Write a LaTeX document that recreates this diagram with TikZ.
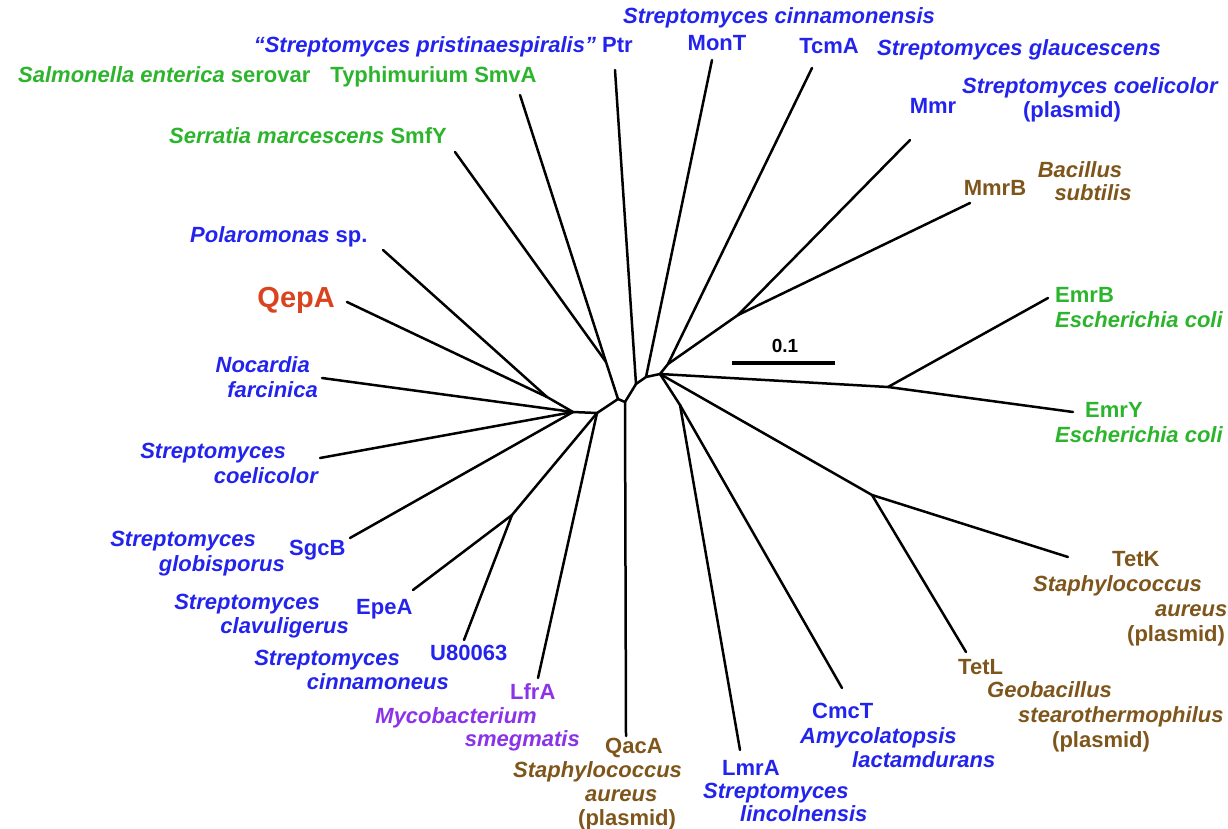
\documentclass[tikz,border=0pt]{standalone}
\usepackage{fontspec}
\setmainfont{Liberation Sans}
\usepackage{tikz}
\usetikzlibrary{positioning}
\definecolor{seqblue}{HTML}{2323EE}
\definecolor{seqgreen}{HTML}{2CB52C}
\definecolor{seqbrown}{HTML}{7E561C}
\definecolor{seqpurple}{HTML}{8A33E8}
\definecolor{seqred}{HTML}{D9441E}

\begin{document}
\begin{tikzpicture}[x=1pt,y=-1pt,
  br/.style={line width=2.5pt,line cap=round,line join=round},
  gene/.style={font=\bfseries\fontsize{22}{25}\selectfont,inner sep=0pt,text height=16pt,text depth=5pt},
  org/.style={gene,font=\bfseries\itshape\fontsize{22}{25}\selectfont},
  bl/.style={text=seqblue},gr/.style={text=seqgreen},bn/.style={text=seqbrown},pu/.style={text=seqpurple}
]
  \useasboundingbox (0,0) rectangle (1228,829);

  % junctions
  \coordinate (c1) at (618,399); \coordinate (c2) at (625,402); \coordinate (c3) at (636,384);
  \coordinate (c4) at (646,377); \coordinate (c5) at (660,374);
  \coordinate (jsm) at (606,362); \coordinate (jtm) at (668,364); \coordinate (jmm) at (738,315);
  \coordinate (jem) at (888,387); \coordinate (jtet) at (872,495); \coordinate (jlc) at (680,405);
  \coordinate (l1) at (597,413); \coordinate (jeu) at (512,515); \coordinate (hub) at (573,412);
  \coordinate (jpq) at (547,397);

  % tips
  \coordinate (tSmvA) at (520,95); \coordinate (tSmfY) at (455,152); \coordinate (tPtr) at (615,70);
  \coordinate (tMonT) at (712,60); \coordinate (tTcmA) at (812,68); \coordinate (tMmr) at (910,140);
  \coordinate (tMmrB) at (970,203); \coordinate (tEmrB) at (1048,298); \coordinate (tEmrY) at (1073,412);
  \coordinate (tTetK) at (1068,557); \coordinate (tTetL) at (966,652); \coordinate (tCmcT) at (842,688);
  \coordinate (tLmrA) at (740,750); \coordinate (tQacA) at (626,736); \coordinate (tLfrA) at (538,678);
  \coordinate (tU80) at (464,640); \coordinate (tEpeA) at (413,590); \coordinate (tSgcB) at (350,538);
  \coordinate (tScoel) at (320,458); \coordinate (tNoc) at (322,378); \coordinate (tQepA) at (347,302);
  \coordinate (tPol) at (383,250);

  \draw[br] (tSmvA) -- (jsm) -- (c1); \draw[br] (tSmfY) -- (jsm);
  \draw[br] (c1) -- (c2) -- (c3) -- (c4) -- (c5);
  \draw[br] (tPtr) -- (c3); \draw[br] (tMonT) -- (c4);
  \draw[br] (tTcmA) -- (jtm) -- (c5); \draw[br] (tMmr) -- (jmm) -- (jtm); \draw[br] (tMmrB) -- (jmm);
  \draw[br] (c5) -- (jem) -- (tEmrB); \draw[br] (jem) -- (tEmrY);
  \draw[br] (c5) -- (jtet) -- (tTetK); \draw[br] (jtet) -- (tTetL);
  \draw[br] (c5) -- (jlc) -- (tCmcT); \draw[br] (jlc) -- (tLmrA);
  \draw[br] (c2) -- (tQacA);
  \draw[br] (c1) -- (l1) -- (hub);
  \draw[br] (l1) -- (jeu) -- (tEpeA); \draw[br] (jeu) -- (tU80); \draw[br] (l1) -- (tLfrA);
  \draw[br] (hub) -- (jpq) -- (tQepA); \draw[br] (jpq) -- (tPol);
  \draw[br] (hub) -- (tNoc); \draw[br] (hub) -- (tScoel); \draw[br] (hub) -- (tSgcB);

  % scale bar
  \coordinate (sb1) at (732,363); \coordinate (sb2) at (835,363);
  \draw[line width=4.5pt] (sb1) -- (sb2);
  \node[gene,font=\bfseries\fontsize{19}{22}\selectfont] (sblabel) at (785,347) {0.1};

  % top
  \node[org,bl] (cinnam) at (779,18) {Streptomyces cinnamonensis};
  \node[gene,bl] (monT) at (717,45) {MonT};
  \node[gene,bl,anchor=east] (ptr) at (633,47) {\textit{“Streptomyces pristinaespiralis”} Ptr};
  \node[gene,gr,anchor=west] (smvA) at (18,77) {\textit{Salmonella enterica} serovar\hspace{20pt}Typhimurium SmvA};
  \node[gene,gr,anchor=east] (smfY) at (447,138) {\textit{Serratia marcescens} SmfY};
  \node[gene,bl] (tcmA) at (829,48) {TcmA};
  \node[org,bl,anchor=west] (glauc) at (877,50) {Streptomyces glaucescens};
  \node[gene,bl] (mmr) at (933,108) {Mmr};
  \node[org,bl,anchor=west] (scoelP1) at (962,88) {Streptomyces coelicolor};
  \node[gene,bl] (scoelP2) at (1072,112) {(plasmid)};
  \node[gene,bn] (mmrB) at (995,190) {MmrB};
  \node[org,bn] (bsub1) at (1080,172) {Bacillus};
  \node[org,bn] (bsub2) at (1093,195) {subtilis};

  % right
  \node[gene,gr,anchor=west] (emrB) at (1055,297) {EmrB};
  \node[org,gr,anchor=west] (ecoliB) at (1055,322) {Escherichia coli};
  \node[gene,gr,anchor=west] (emrY) at (1085,412) {EmrY};
  \node[org,gr,anchor=west] (ecoliY) at (1055,437) {Escherichia coli};
  \node[gene,bn,anchor=west] (tetK) at (1112,561) {TetK};
  \node[org,bn,anchor=west] (saurK1) at (1033,586) {Staphylococcus};
  \node[org,bn,anchor=west] (saurK2) at (1155,611) {aureus};
  \node[gene,bn,anchor=west] (saurK3) at (1127,636) {(plasmid)};
  \node[gene,bn,anchor=west] (tetL) at (958,669) {TetL};
  \node[org,bn,anchor=west] (geob1) at (987,692) {Geobacillus};
  \node[org,bn,anchor=west] (geob2) at (1018,717) {stearothermophilus};
  \node[gene,bn,anchor=west] (geob3) at (1052,742) {(plasmid)};

  % bottom
  \node[gene,bl,anchor=west] (cmcT) at (812,713) {CmcT};
  \node[org,bl,anchor=west] (amyc1) at (800,738) {Amycolatopsis};
  \node[org,bl,anchor=west] (amyc2) at (852,762) {lactamdurans};
  \node[gene,bl,anchor=west] (lmrA) at (722,770) {LmrA};
  \node[org,bl,anchor=west] (slin1) at (703,793) {Streptomyces};
  \node[org,bl,anchor=west] (slin2) at (740,816) {lincolnensis};
  \node[gene,bn,anchor=west] (qacA) at (605,748) {QacA};
  \node[org,bn,anchor=west] (saurQ1) at (513,772) {Staphylococcus};
  \node[org,bn,anchor=west] (saurQ2) at (585,796) {aureus};
  \node[gene,bn,anchor=west] (saurQ3) at (578,820) {(plasmid)};
  \node[gene,pu,anchor=west] (lfrA) at (510,694) {LfrA};
  \node[org,pu,anchor=east] (msmeg1) at (537,718) {Mycobacterium};
  \node[org,pu,anchor=east] (msmeg2) at (580,741) {smegmatis};

  % left
  \node[gene,bl,anchor=west] (u80) at (430,655) {U80063};
  \node[org,bl,anchor=east] (scin1) at (400,660) {Streptomyces};
  \node[org,bl,anchor=east] (scin2) at (449,684) {cinnamoneus};
  \node[gene,bl,anchor=west] (epeA) at (356,609) {EpeA};
  \node[org,bl,anchor=east] (sclav1) at (320,604) {Streptomyces};
  \node[org,bl,anchor=east] (sclav2) at (349,628) {clavuligerus};
  \node[gene,bl,anchor=west] (sgcB) at (289,550) {SgcB};
  \node[org,bl,anchor=east] (sglob1) at (256,541) {Streptomyces};
  \node[org,bl,anchor=east] (sglob2) at (285,566) {globisporus};
  \node[org,bl,anchor=east] (scoel1) at (286,453) {Streptomyces};
  \node[org,bl,anchor=east] (scoel2) at (318,478) {coelicolor};
  \node[org,bl,anchor=east] (noc1) at (310,367) {Nocardia};
  \node[org,bl,anchor=east] (noc2) at (318,392) {farcinica};
  \node[gene,text=seqred,font=\bfseries\fontsize{29}{32}\selectfont,text height=21pt,text depth=1pt,anchor=east] (qepA) at (335,297) {QepA};
  \node[gene,bl,anchor=west] (polar) at (190,237) {\textit{Polaromonas} sp.};
\end{tikzpicture}
\end{document}
